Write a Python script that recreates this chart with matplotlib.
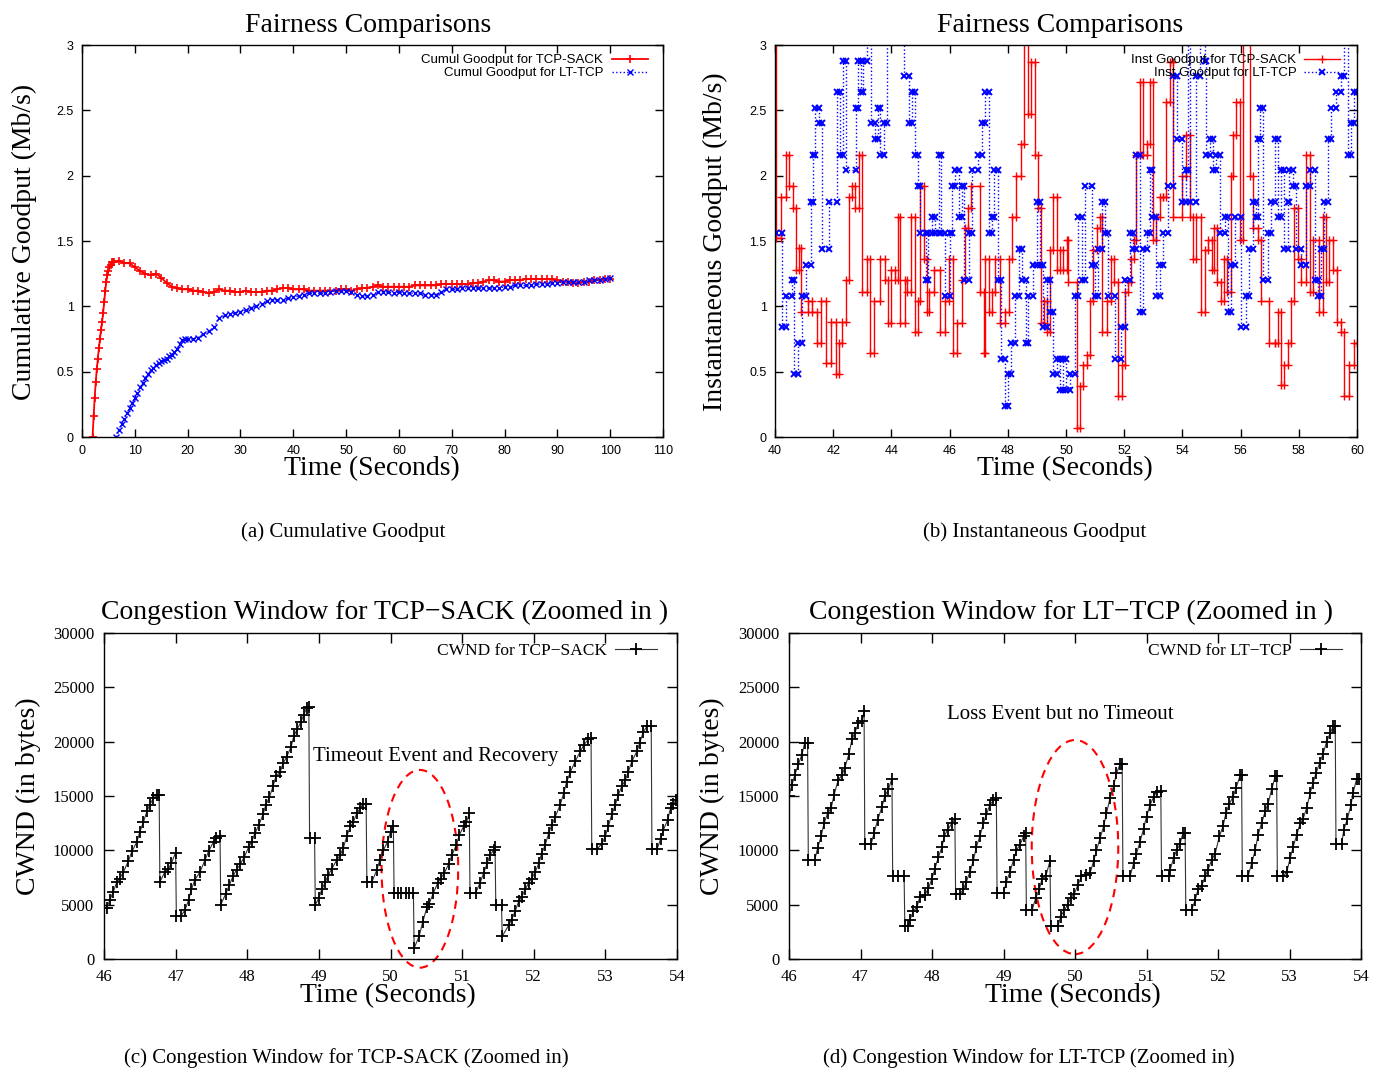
import matplotlib
matplotlib.use("Agg")
import matplotlib.pyplot as plt
from matplotlib.patches import Ellipse

SERIF = "Liberation Serif"
SANS = "Liberation Sans"

# ---------------- (a) cumulative goodput ----------------
sack_cum_t = [2.0, 2.2, 2.4, 2.6, 2.8, 3.0, 3.2, 3.4, 3.6, 3.8, 4.0, 4.2, 4.4, 4.6, 4.8,
              5.0, 5.2, 5.4, 5.6, 5.8] + list(range(6, 101))
sack_cum_y = [0.00, 0.16, 0.30, 0.42, 0.52, 0.60, 0.68, 0.75, 0.82, 0.88, 0.95, 1.03, 1.12, 1.19, 1.24,
              1.27, 1.30, 1.32, 1.34, 1.34,
              1.34, 1.35, 1.33, 1.33, 1.30, 1.27, 1.25, 1.24, 1.25, 1.22, 1.18, 1.15, 1.14, 1.13, 1.13,
              1.12, 1.12, 1.11, 1.10, 1.11, 1.13, 1.12, 1.12, 1.11, 1.11, 1.12, 1.11, 1.11, 1.11, 1.12,
              1.12, 1.13, 1.14, 1.14, 1.13, 1.13, 1.13, 1.12, 1.12, 1.12, 1.12, 1.12, 1.12, 1.13, 1.13,
              1.12, 1.13, 1.14, 1.14, 1.15, 1.16, 1.15, 1.15, 1.15, 1.15, 1.15, 1.15, 1.16, 1.16, 1.16,
              1.16, 1.16, 1.17, 1.17, 1.17, 1.17, 1.17, 1.17, 1.18, 1.18, 1.19, 1.20, 1.20, 1.19, 1.19,
              1.20, 1.20, 1.20, 1.21, 1.21, 1.21, 1.21, 1.21, 1.21, 1.20, 1.19, 1.19, 1.18, 1.18, 1.19,
              1.19, 1.20, 1.20, 1.21, 1.21]

lt_cum_t = [6.5, 7.0, 7.5, 8.0, 8.5, 9.0, 9.5, 10.0, 10.5, 11.0, 11.5, 12.0, 12.5, 13.0, 13.5,
            14.0, 14.5, 15.0, 15.5, 16.0, 16.5, 17.0, 17.5, 18.0, 18.5, 19.0, 19.5, 20.0] + list(range(21, 101))
lt_cum_y = [0.00, 0.05, 0.10, 0.14, 0.18, 0.22, 0.26, 0.30, 0.34, 0.38, 0.41, 0.45, 0.48, 0.51, 0.53,
            0.55, 0.57, 0.58, 0.59, 0.60, 0.62, 0.63, 0.65, 0.67, 0.71, 0.74, 0.75, 0.75,
            0.75, 0.76, 0.79, 0.81, 0.84, 0.91, 0.93, 0.94, 0.95, 0.96, 0.97, 0.99, 1.00, 1.02, 1.04,
            1.05, 1.05, 1.05, 1.06, 1.07, 1.08, 1.09, 1.10, 1.10, 1.10, 1.10, 1.11, 1.12, 1.12, 1.12,
            1.11, 1.09, 1.08, 1.08, 1.09, 1.11, 1.11, 1.11, 1.10, 1.11, 1.10, 1.10, 1.10, 1.10, 1.09,
            1.09, 1.09, 1.11, 1.13, 1.13, 1.13, 1.14, 1.14, 1.14, 1.14, 1.14, 1.14, 1.14, 1.14, 1.15,
            1.15, 1.16, 1.16, 1.16, 1.16, 1.17, 1.17, 1.17, 1.18, 1.18, 1.19, 1.19, 1.19, 1.19, 1.19,
            1.20, 1.20, 1.20, 1.21, 1.22]

# ---------------- (b) instantaneous goodput (step start, value) ----------------
sack_inst_t = [40.00, 40.05, 40.20, 40.37, 40.48, 40.62, 40.71, 40.82, 40.88, 41.14, 41.28, 41.45, 41.57,
               41.74, 41.94, 42.08, 42.19, 42.30, 42.45, 42.54, 42.65, 42.74, 42.90, 42.99, 43.17, 43.26,
               43.39, 43.62, 43.79, 43.89, 43.97, 44.11, 44.23, 44.31, 44.46, 44.54, 44.69, 44.80, 44.91,
               44.99, 45.11, 45.22, 45.30, 45.45, 45.68, 45.83, 45.99, 46.10, 46.25, 46.42, 46.54, 46.63,
               46.74, 47.05, 47.17, 47.22, 47.34, 47.45, 47.57, 47.74, 47.91, 48.05, 48.16, 48.27, 48.46,
               48.57, 48.69, 48.80, 48.94, 49.05, 49.14, 49.26, 49.34, 49.45, 49.57, 49.68, 49.80, 49.91,
               50.02, 50.08, 50.37, 50.48, 50.60, 50.71, 50.82, 50.94, 51.05, 51.17, 51.25, 51.40, 51.54,
               51.66, 51.77, 51.91, 52.02, 52.14, 52.25, 52.34, 52.42, 52.54, 52.65, 52.77, 52.88, 53.00,
               53.10, 53.22, 53.34, 53.45, 53.57, 53.68, 53.97, 54.14, 54.25, 54.37, 54.48, 54.65, 54.77,
               54.88, 55.00, 55.09, 55.20, 55.32, 55.43, 55.54, 55.66, 55.74, 55.85, 55.99, 56.08, 56.31,
               56.42, 56.59, 56.70, 56.99, 57.17, 57.28, 57.39, 57.50, 57.62, 57.74, 57.85, 57.97, 58.08,
               58.25, 58.37, 58.48, 58.71, 58.82, 58.94, 59.05, 59.17, 59.31, 59.45, 59.57, 59.74, 59.89]
sack_inst_y = [3.30, 1.52, 1.84, 2.16, 1.92, 1.75, 1.28, 1.45, 0.96, 1.04, 0.96, 0.72, 1.04,
               0.57, 0.88, 0.48, 0.72, 0.88, 1.20, 1.84, 1.92, 1.75, 2.16, 1.11, 1.36, 0.64,
               1.04, 1.36, 1.20, 0.87, 1.28, 1.20, 1.68, 0.87, 1.20, 1.11, 1.68, 0.80, 1.04,
               1.92, 1.36, 0.96, 1.11, 1.28, 0.80, 1.04, 1.36, 0.64, 0.87, 1.20, 1.60, 1.75,
               1.92, 1.11, 0.64, 1.36, 0.96, 1.11, 1.36, 0.87, 0.96, 1.36, 1.68, 2.00, 2.24,
               3.30, 2.47, 2.87, 2.16, 1.75, 0.87, 1.04, 0.80, 1.43, 1.84, 1.28, 1.43, 1.28,
               1.51, 1.19, 0.07, 0.39, 0.55, 0.63, 1.04, 1.43, 1.60, 1.68, 0.80, 1.04, 1.36,
               1.19, 0.31, 0.55, 1.11, 1.19, 1.36, 1.51, 2.16, 2.72, 2.16, 2.24, 2.72, 1.51,
               1.68, 1.84, 1.84, 2.56, 2.87, 1.68, 2.00, 2.31, 1.68, 1.36, 1.68, 0.96, 1.43,
               1.51, 1.28, 1.60, 1.19, 1.04, 1.36, 1.11, 2.00, 2.31, 2.56, 1.51, 3.30, 2.00,
               1.60, 1.51, 1.04, 0.72, 0.72, 0.96, 0.40, 0.55, 0.72, 1.04, 1.75, 1.36, 1.19,
               2.16, 1.11, 1.51, 0.96, 1.68, 1.19, 1.51, 1.28, 0.88, 0.80, 0.31, 0.55, 0.72]

lt_inst_t = [40.02, 40.25, 40.37, 40.57, 40.65, 40.80, 40.94, 41.05, 41.22, 41.30, 41.39, 41.50, 41.62,
             41.85, 42.14, 42.25, 42.34, 42.45, 42.77, 42.86, 42.95, 43.02, 43.15, 43.31, 43.45, 43.54,
             43.62, 43.74, 43.85, 44.42, 44.62, 44.70, 44.80, 44.91, 44.99, 45.19, 45.27, 45.39, 45.50,
             45.62, 45.72, 45.85, 46.02, 46.08, 46.19, 46.31, 46.42, 46.51, 46.65, 46.77, 46.99, 47.11,
             47.22, 47.34, 47.45, 47.54, 47.68, 47.77, 47.89, 48.00, 48.11, 48.25, 48.39, 48.50, 48.62,
             48.71, 48.85, 49.00, 49.11, 49.22, 49.34, 49.45, 49.57, 49.68, 49.80, 49.90, 50.00, 50.15,
             50.30, 50.40, 50.54, 50.65, 50.88, 51.00, 51.10, 51.22, 51.34, 51.45, 51.68, 51.90, 52.02,
             52.20, 52.30, 52.42, 52.54, 52.65, 52.77, 52.88, 52.94, 53.10, 53.22, 53.34, 53.50, 53.68,
             53.80, 53.97, 54.14, 54.20, 54.25, 54.48, 54.62, 54.77, 54.82, 54.94, 55.05, 55.17, 55.28,
             55.45, 55.57, 55.68, 55.80, 56.02, 56.20, 56.30, 56.42, 56.54, 56.60, 56.65, 56.77, 56.94,
             57.05, 57.17, 57.28, 57.40, 57.50, 57.62, 57.68, 57.80, 57.90, 58.08, 58.25, 58.37, 58.54,
             58.65, 58.77, 58.88, 59.00, 59.10, 59.28, 59.45, 59.57, 59.68, 59.80, 59.90]
lt_inst_y = [1.56, 0.84, 1.08, 1.20, 0.48, 0.72, 1.08, 1.32, 1.80, 2.16, 2.52, 2.40, 1.44,
             1.80, 2.64, 2.16, 2.88, 2.04, 2.52, 2.88, 2.64, 2.88, 3.30, 2.40, 2.28, 2.52,
             2.16, 2.40, 3.30, 2.76, 2.40, 2.64, 2.16, 1.92, 1.56, 1.20, 1.56, 1.68, 1.56,
             2.16, 1.56, 1.08, 1.56, 1.92, 2.04, 1.68, 1.92, 1.20, 1.56, 2.04, 2.16, 2.40,
             2.64, 1.56, 1.68, 2.04, 1.20, 0.60, 0.24, 0.48, 0.72, 1.08, 1.44, 1.20, 0.72,
             1.08, 1.32, 1.80, 1.32, 0.84, 1.20, 0.96, 0.48, 0.60, 0.36, 0.60, 0.36, 0.48,
             1.08, 1.68, 1.20, 1.92, 1.32, 1.08, 1.44, 1.80, 1.56, 1.08, 0.60, 0.84, 1.20,
             1.56, 1.44, 2.16, 0.96, 1.44, 1.56, 2.04, 1.68, 1.08, 1.32, 1.56, 1.92, 2.76,
             2.28, 1.80, 2.04, 3.30, 1.80, 2.76, 3.30, 2.88, 2.16, 2.28, 2.04, 2.16, 1.56,
             1.68, 0.96, 1.32, 1.68, 0.84, 1.08, 1.44, 1.80, 1.68, 2.28, 2.52, 1.20, 1.56,
             1.80, 2.28, 1.68, 2.04, 1.44, 1.80, 2.04, 1.92, 1.44, 1.32, 1.92, 2.04, 1.20,
             1.08, 1.44, 1.80, 2.28, 2.52, 2.64, 2.76, 3.30, 2.16, 2.40, 2.64]

# ---------------- (c) CWND TCP-SACK ----------------
cw_sack_t = [46.00, 46.04, 46.08, 46.13, 46.18, 46.22, 46.27, 46.34, 46.39, 46.46, 46.50, 46.55, 46.60,
             46.64, 46.69, 46.74, 46.77, 46.78, 46.85, 46.90, 46.94, 47.00, 47.01, 47.08, 47.13, 47.18,
             47.22, 47.27, 47.34, 47.41, 47.46, 47.53, 47.57, 47.62, 47.63, 47.70, 47.75, 47.80, 47.85,
             47.90, 47.96, 48.02, 48.06, 48.11, 48.16, 48.22, 48.26, 48.31, 48.36, 48.40, 48.46, 48.50,
             48.55, 48.61, 48.65, 48.70, 48.75, 48.79, 48.83, 48.86, 48.87, 48.94, 48.95, 49.00, 49.04,
             49.09, 49.13, 49.18, 49.25, 49.30, 49.34, 49.39, 49.44, 49.48, 49.53, 49.58, 49.62, 49.66,
             49.67, 49.74, 49.81, 49.85, 49.90, 49.96, 50.00, 50.04, 50.05, 50.10, 50.15, 50.21, 50.26,
             50.32, 50.33, 50.40, 50.45, 50.51, 50.54, 50.60, 50.66, 50.70, 50.75, 50.81, 50.86, 50.92,
             50.96, 51.02, 51.06, 51.10, 51.11, 51.19, 51.25, 51.30, 51.35, 51.39, 51.44, 51.46, 51.47,
             51.55, 51.56, 51.65, 51.69, 51.74, 51.79, 51.83, 51.88, 51.93, 51.97, 52.02, 52.07, 52.11,
             52.16, 52.21, 52.25, 52.30, 52.37, 52.42, 52.46, 52.51, 52.58, 52.65, 52.70, 52.76, 52.80,
             52.81, 52.88, 52.95, 53.00, 53.04, 53.09, 53.14, 53.18, 53.23, 53.28, 53.32, 53.37, 53.44,
             53.48, 53.53, 53.58, 53.64, 53.65, 53.72, 53.77, 53.81, 53.87, 53.91, 53.95, 53.99]
cw_sack_v = [4700, 4700, 5400, 6200, 7100, 7400, 8000, 9000, 9900, 10800, 11700, 12600, 13600,
             14200, 14800, 15100, 15100, 7100, 8000, 8300, 8800, 9800, 4000, 4000, 4500, 5400,
             6400, 7300, 8000, 9100, 9900, 10800, 11100, 11300, 5000, 6000, 6800, 7600, 8200,
             8700, 9400, 10300, 10800, 11600, 12300, 13300, 14200, 14900, 15900, 16800, 17200, 18000,
             18600, 19500, 20500, 21200, 21800, 22500, 23100, 23200, 11100, 11100, 5000, 5600, 6400,
             7100, 7700, 8300, 9100, 9600, 10200, 11300, 12200, 12600, 13400, 13900, 14300, 14300,
             7100, 7100, 8200, 9100, 10000, 10800, 11700, 12200, 6100, 6100, 6100, 6100, 6100,
             6100, 1000, 2100, 3400, 4800, 5100, 6100, 7000, 7400, 7900, 8700, 9600, 10500,
             11400, 12200, 12600, 13400, 6100, 6100, 7000, 7900, 8800, 9600, 10000, 10300, 5000,
             5000, 2100, 3100, 3600, 4400, 5300, 5700, 6400, 7000, 7400, 8000, 8800, 9700,
             10500, 11600, 12300, 13100, 14200, 15300, 16300, 17200, 18200, 19100, 19700, 20200, 20300,
             10100, 10100, 10600, 11300, 12200, 13300, 14200, 15100, 15900, 16500, 17200, 18200, 19100,
             19900, 20900, 21400, 21400, 10100, 10100, 11000, 11900, 12800, 13900, 14300, 14600]

# ---------------- (d) CWND LT-TCP ----------------
cw_lt_t = [46.00, 46.04, 46.08, 46.13, 46.18, 46.22, 46.26, 46.27, 46.36, 46.40, 46.45, 46.49, 46.54,
           46.59, 46.63, 46.69, 46.74, 46.78, 46.84, 46.88, 46.92, 46.97, 47.02, 47.05, 47.06, 47.15,
           47.19, 47.24, 47.30, 47.34, 47.39, 47.44, 47.45, 47.53, 47.61, 47.62, 47.66, 47.69, 47.74,
           47.79, 47.83, 47.90, 47.95, 48.00, 48.04, 48.09, 48.14, 48.17, 48.22, 48.28, 48.32, 48.33,
           48.39, 48.44, 48.48, 48.53, 48.58, 48.62, 48.67, 48.72, 48.76, 48.81, 48.86, 48.90, 48.91,
           49.00, 49.04, 49.09, 49.14, 49.18, 49.23, 49.28, 49.31, 49.32, 49.40, 49.45, 49.50, 49.54,
           49.59, 49.65, 49.66, 49.76, 49.80, 49.85, 49.90, 49.94, 49.99, 50.04, 50.09, 50.16, 50.21,
           50.26, 50.30, 50.35, 50.40, 50.44, 50.49, 50.54, 50.58, 50.63, 50.66, 50.67, 50.77, 50.82,
           50.86, 50.91, 50.96, 51.00, 51.05, 51.10, 51.14, 51.20, 51.21, 51.31, 51.33, 51.38, 51.42,
           51.47, 51.51, 51.54, 51.55, 51.63, 51.68, 51.72, 51.77, 51.82, 51.86, 51.91, 51.96, 52.02,
           52.07, 52.11, 52.16, 52.21, 52.25, 52.31, 52.33, 52.34, 52.42, 52.47, 52.52, 52.56, 52.61,
           52.66, 52.70, 52.75, 52.80, 52.82, 52.83, 52.91, 52.96, 53.01, 53.05, 53.10, 53.15, 53.19,
           53.24, 53.29, 53.33, 53.37, 53.42, 53.47, 53.52, 53.57, 53.61, 53.64, 53.65, 53.73, 53.76,
           53.81, 53.86, 53.89, 53.94, 53.97]
cw_lt_v = [15000, 16000, 16900, 17900, 18800, 19900, 19900, 9100, 9100, 10200, 11300, 12500, 13400,
           13900, 15100, 16500, 16900, 17600, 18900, 20200, 20800, 21700, 21900, 22800, 10600, 10600,
           11600, 12800, 14000, 15000, 15600, 16600, 7600, 7600, 7600, 3000, 3000, 3600, 4400,
           4800, 5700, 5900, 6500, 7400, 8300, 9400, 10300, 11300, 11900, 12500, 12900, 6000,
           6000, 6400, 7100, 8000, 9100, 10300, 11300, 12500, 13300, 14200, 14600, 14800, 6100,
           6100, 7100, 8000, 9100, 10000, 10500, 11300, 11600, 4500, 4500, 5600, 6400, 7400,
           7600, 9000, 3000, 3000, 3900, 4500, 5000, 5600, 6000, 6800, 7600, 7700, 7900,
           9000, 10000, 11100, 12200, 13400, 14800, 15900, 17100, 17900, 17900, 7600, 7600, 8800,
           9700, 10800, 12000, 13100, 14200, 14900, 15400, 15500, 7600, 7600, 8200, 9300, 10000,
           10600, 11600, 11600, 4500, 4500, 5400, 6400, 6700, 7600, 8200, 9100, 9700, 11300,
           12200, 13400, 14300, 14900, 15700, 16900, 16900, 7600, 7600, 8800, 10000, 11400, 12500,
           13600, 14300, 15600, 16800, 16800, 7600, 7600, 8000, 9300, 10300, 11400, 12500, 12900,
           13900, 15300, 16200, 17100, 18000, 18900, 20000, 20800, 21400, 21400, 10600, 10600, 11900,
           12900, 14200, 15300, 16600, 16600]

W, H = 1379, 1070
fig = plt.figure(figsize=(W / 100, H / 100), dpi=100)


def box(l, t, r, b):
    return [l / W, 1 - b / H, (r - l) / W, (b - t) / H]


def ftext(x, y, s, **kw):
    # pixel position of the text centre, small shift for the serif glyph box
    if kw.get("rotation", 0) == 90:
        x += 2
    else:
        y += 3
    fig.text(x / W, 1 - y / H, s, ha="center", va="center", **kw)


def stairs(t, y, t_end):
    xs, ys = [], []
    for i in range(len(t)):
        nxt = t[i + 1] if i + 1 < len(t) else t_end
        xs += [t[i], nxt]
        ys += [y[i], y[i]]
    return xs, ys


def frame(ax, fam, size, pad, length):
    ax.tick_params(direction="in", top=True, right=True, length=length, width=1,
                   labelsize=size, pad=pad)
    for lab in ax.get_xticklabels() + ax.get_yticklabels():
        lab.set_family(fam)
    for sp in ax.spines.values():
        sp.set_linewidth(1.0)


# ---- (a)
ax = fig.add_axes(box(82, 45, 663, 437))
ax.plot(sack_cum_t, sack_cum_y, color="#ff0000", lw=1.3, marker="+", ms=6, mew=1.2,
        label="Cumul Goodput for TCP-SACK")
ax.plot(lt_cum_t, lt_cum_y, color="#0000ff", lw=1.0, ls=":", marker="x", ms=4.5, mew=1.0,
        label="Cumul Goodput for LT-TCP")
ax.set_xlim(0, 110)
ax.set_ylim(0, 3)
ax.set_xticks(range(0, 111, 10))
ax.set_yticks([0, 0.5, 1, 1.5, 2, 2.5, 3])
ax.set_yticklabels(["0", "0.5", "1", "1.5", "2", "2.5", "3"])
frame(ax, SANS, 9, 6, 6)
ax.legend(loc="upper right", bbox_to_anchor=((648 - 82) / 581, (437 - 54) / 392), frameon=False,
          markerfirst=False, numpoints=1, handlelength=2.7, handletextpad=0.7, labelspacing=0.05,
          borderpad=0, borderaxespad=0, prop={"family": SANS, "size": 9.5})

# ---- (b)
ax = fig.add_axes(box(775, 45, 1357, 437))
xs, ys = stairs(sack_inst_t, sack_inst_y, 60.0)
ax.plot(xs, ys, color="#ff0000", lw=1.0, marker="+", ms=6, mew=1.0,
        label="Inst Goodput for TCP-SACK")
xs, ys = stairs(lt_inst_t, lt_inst_y, 60.0)
ax.plot(xs, ys, color="#0000ff", lw=1.0, ls=":", marker="x", ms=5, mew=1.4,
        label="Inst Goodput for LT-TCP")
ax.set_xlim(40, 60)
ax.set_ylim(0, 3)
ax.set_xticks(range(40, 61, 2))
ax.set_yticks([0, 0.5, 1, 1.5, 2, 2.5, 3])
ax.set_yticklabels(["0", "0.5", "1", "1.5", "2", "2.5", "3"])
frame(ax, SANS, 9, 6, 6)
ax.legend(loc="upper right", bbox_to_anchor=((1340 - 775) / 582, (437 - 54) / 392), frameon=False,
          markerfirst=False, numpoints=1, handlelength=2.7, handletextpad=0.6, labelspacing=0.05,
          borderpad=0, borderaxespad=0, prop={"family": SANS, "size": 9.5})

# ---- (c)
ax = fig.add_axes(box(104, 633, 677, 959))
ax.plot(cw_sack_t, cw_sack_v, color="#333333", lw=0.8, marker="+", ms=8, mew=1.3, mec="black",
        label="CWND for TCP\u2212SACK")
ax.set_xlim(46, 54)
ax.set_ylim(0, 30000)
ax.set_xticks(range(46, 55))
ax.set_yticks(range(0, 30001, 5000))
frame(ax, SERIF, 12, 7, 7)
ax.add_patch(Ellipse((50.41, 8300), 1.07, 18200, fill=False, ls=(0, (4, 3)), ec="red",
                     lw=1.5, clip_on=False))
ax.text(48.92, 18600, "Timeout Event and Recovery", family=SERIF, fontsize=15, va="center")
ax.legend(loc="upper right", bbox_to_anchor=((657 - 104) / 573, (959 - 643) / 326), frameon=False,
          markerfirst=False, numpoints=1, handlelength=2.4, handletextpad=0.5,
          borderpad=0, borderaxespad=0, prop={"family": SERIF, "size": 12.5})

# ---- (d)
ax = fig.add_axes(box(789, 633, 1361, 959))
ax.plot(cw_lt_t, cw_lt_v, color="#333333", lw=0.8, marker="+", ms=8, mew=1.3, mec="black",
        label="CWND for LT\u2212TCP")
ax.set_xlim(46, 54)
ax.set_ylim(0, 30000)
ax.set_xticks(range(46, 55))
ax.set_yticks(range(0, 30001, 5000))
frame(ax, SERIF, 12, 7, 7)
ax.add_patch(Ellipse((50.0, 10300), 1.21, 19700, fill=False, ls=(0, (4, 3)), ec="red",
                     lw=1.5, clip_on=False))
ax.text(48.21, 22500, "Loss Event but no Timeout", family=SERIF, fontsize=15, va="center")
ax.legend(loc="upper right", bbox_to_anchor=((1342 - 789) / 572, (959 - 643) / 326), frameon=False,
          markerfirst=False, numpoints=1, handlelength=2.4, handletextpad=0.5,
          borderpad=0, borderaxespad=0, prop={"family": SERIF, "size": 12.5})

# titles, axis labels, captions
ftext(368, 22, "Fairness Comparisons", family=SERIF, fontsize=20)
ftext(1060, 22, "Fairness Comparisons", family=SERIF, fontsize=20)
ftext(385, 609, "Congestion Window for TCP\u2212SACK (Zoomed in )", family=SERIF, fontsize=20)
ftext(1071, 609, "Congestion Window for LT\u2212TCP (Zoomed in )", family=SERIF, fontsize=20)

ftext(22, 242, "Cumulative Goodput (Mb/s)", family=SERIF, fontsize=20, rotation=90)
ftext(713, 242, "Instantaneous Goodput (Mb/s)", family=SERIF, fontsize=20, rotation=90)
ftext(26, 796, "CWND (in bytes)", family=SERIF, fontsize=20, rotation=90)
ftext(710, 796, "CWND (in bytes)", family=SERIF, fontsize=20, rotation=90)

ftext(372, 466, "Time (Seconds)", family=SERIF, fontsize=20)
ftext(1065, 466, "Time (Seconds)", family=SERIF, fontsize=20)
ftext(388, 993, "Time (Seconds)", family=SERIF, fontsize=20)
ftext(1073, 993, "Time (Seconds)", family=SERIF, fontsize=20)

ftext(343, 529, "(a) Cumulative Goodput", family=SERIF, fontsize=15)
ftext(1035, 529, "(b) Instantaneous Goodput", family=SERIF, fontsize=15)
ftext(346, 1055, "(c) Congestion Window for TCP-SACK (Zoomed in)", family=SERIF, fontsize=15)
ftext(1029, 1055, "(d) Congestion Window for LT-TCP (Zoomed in)", family=SERIF, fontsize=15)

fig.savefig("out.png", dpi=100)
